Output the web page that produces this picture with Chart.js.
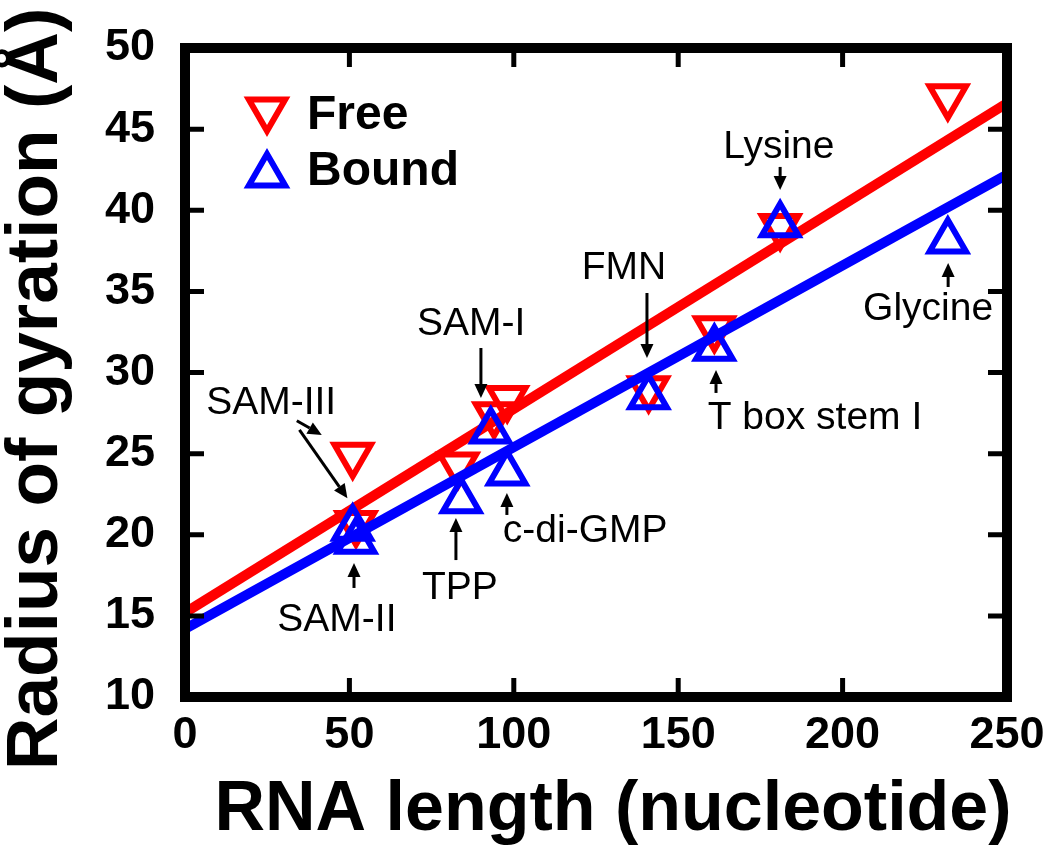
<!DOCTYPE html>
<html>
<head>
<meta charset="utf-8">
<title>Radius of gyration vs RNA length</title>
<script src="https://cdn.jsdelivr.net/npm/chart.js@4.4.1/dist/chart.umd.min.js"></script>
<style>
  html, body { margin: 0; padding: 0; background: #fff; }
  #wrap { width: 1050px; height: 852px; }
</style>
</head>
<body>
<div id="wrap"><canvas id="rgChart" width="1050" height="852"></canvas></div>
<script>
// riboswitch points (RNA length in nt, Rg in angstrom)
const freeLength = [51, 52, 83, 94, 98, 141, 161, 181, 232];
const freeRg = [24.9, 20.7, 24.3, 27.4, 28.4, 29.0, 32.7, 39.0, 47.0];
const boundLength = [51, 52, 84, 93, 98, 141, 161, 181, 232];
const boundRg = [20.4, 19.6, 22.1, 26.4, 23.8, 28.5, 31.5, 39.1, 38.1];

// fitted lines, read at both ends of the x axis
const fitLength = [0, 250];
const freeFitRg = [15.2, 46.6];
const boundFitRg = [14.2, 42.2];

const xTicks = [0, 50, 100, 150, 200, 250];
const yTicks = [10, 15, 20, 25, 30, 35, 40, 45, 50];

// text labels (centre, data units)
const labelNames = ['SAM-III', 'SAM-II', 'TPP', 'c-di-GMP', 'SAM-I', 'FMN', 'Lysine', 'Glycine', 'T box stem I'];
const labelX = [26.2, 46.2, 83.6, 121.7, 87.0, 133.5, 180.6, 226.0, 191.6];
const labelY = [28.1, 14.75, 16.7, 20.2, 33.0, 36.4, 43.9, 33.9, 27.2];

// arrows: tail and tip, data units
const arrowFromX = [34.0, 34.8, 51.4, 82.4, 97.9, 90.0, 140.5, 181.0, 232.1, 161.5];
const arrowFromY = [27.03, 26.46, 16.72, 18.44, 21.22, 31.51, 34.9, 42.67, 35.27, 28.74];
const arrowToX = [41.6, 49.4, 51.4, 82.4, 97.9, 90.0, 140.5, 181.0, 232.1, 161.5];
const arrowToY = [26.15, 22.25, 18.26, 21.03, 22.57, 28.43, 30.89, 41.25, 36.75, 30.15];

const RED = '#ff0000';
const BLUE = '#0000ff';
const FONT = '"Liberation Sans", Arial, sans-serif';

function toPoints(xs, ys) {
  return xs.map((x, i) => ({ x: x, y: ys[i] }));
}

function triangle(ctx, x, y, r, down) {
  const rot = down ? Math.PI : 0;
  ctx.beginPath();
  for (let k = 0; k < 3; k++) {
    const a = rot + k * 2 * Math.PI / 3;
    const px = x + Math.sin(a) * r;
    const py = y - Math.cos(a) * r;
    if (k === 0) ctx.moveTo(px, py); else ctx.lineTo(px, py);
  }
  ctx.closePath();
  ctx.stroke();
}

function arrow(ctx, x1, y1, x2, y2) {
  const ang = Math.atan2(y2 - y1, x2 - x1);
  const head = 14, half = 6.5;
  const bx = x2 - Math.cos(ang) * head;
  const by = y2 - Math.sin(ang) * head;
  ctx.beginPath();
  ctx.moveTo(x1, y1);
  ctx.lineTo(bx, by);
  ctx.stroke();
  ctx.beginPath();
  ctx.moveTo(x2, y2);
  ctx.lineTo(bx + Math.sin(ang) * half, by - Math.cos(ang) * half);
  ctx.lineTo(bx - Math.sin(ang) * half, by + Math.cos(ang) * half);
  ctx.closePath();
  ctx.fill();
}

// frame, inward ticks, legend, labels, arrows, axis titles
const overlay = {
  id: 'overlay',
  afterDatasetsDraw(chart) {
    const ctx = chart.ctx;
    const xs = chart.scales.x;
    const ys = chart.scales.y;
    const area = chart.chartArea;
    ctx.save();

    ctx.strokeStyle = '#000';
    ctx.lineCap = 'butt';
    ctx.lineWidth = 5;
    ctx.beginPath();
    xTicks.slice(1, -1).forEach(v => {
      const px = xs.getPixelForValue(v);
      ctx.moveTo(px, area.bottom); ctx.lineTo(px, area.bottom - 19);
      ctx.moveTo(px, area.top); ctx.lineTo(px, area.top + 19);
    });
    yTicks.slice(1, -1).forEach(v => {
      const py = ys.getPixelForValue(v);
      ctx.moveTo(area.left, py); ctx.lineTo(area.left + 19, py);
      ctx.moveTo(area.right, py); ctx.lineTo(area.right - 19, py);
    });
    ctx.stroke();

    ctx.lineWidth = 10;
    ctx.lineJoin = 'miter';
    ctx.strokeRect(area.left, area.top, area.right - area.left, area.bottom - area.top);

    // legend
    ctx.lineWidth = 6;
    ctx.strokeStyle = RED;
    triangle(ctx, area.left + 82, area.top + 62, 21, true);
    ctx.strokeStyle = BLUE;
    triangle(ctx, area.left + 82, area.top + 127, 21, false);
    ctx.fillStyle = '#000';
    ctx.font = 'bold 48px ' + FONT;
    ctx.textAlign = 'left';
    ctx.textBaseline = 'middle';
    ctx.fillText('Free', area.left + 122, area.top + 68);
    ctx.fillText('Bound', area.left + 122, area.top + 124);

    // point labels
    ctx.font = '39px ' + FONT;
    ctx.textAlign = 'center';
    labelNames.forEach((name, i) => {
      ctx.fillText(name, xs.getPixelForValue(labelX[i]), ys.getPixelForValue(labelY[i]));
    });

    ctx.strokeStyle = '#000';
    ctx.lineWidth = 3;
    arrowFromX.forEach((x, i) => {
      arrow(ctx, xs.getPixelForValue(x), ys.getPixelForValue(arrowFromY[i]),
        xs.getPixelForValue(arrowToX[i]), ys.getPixelForValue(arrowToY[i]));
    });

    // axis titles
    ctx.font = 'bold 70px ' + FONT;
    ctx.fillText('RNA length (nucleotide)', 613, 811);
    ctx.font = 'bold 73px ' + FONT;
    ctx.translate(37, 389);
    ctx.rotate(-Math.PI / 2);
    ctx.fillText('Radius of gyration (Å)', 0, 0);

    ctx.restore();
  }
};

const tickFont = { family: FONT, size: 45, weight: 'bold' };
// invisible tick marks: only used to push the labels away from the axes
const hiddenGrid = (len) => ({ display: true, drawOnChartArea: false, drawTicks: true, tickLength: len, tickColor: 'rgba(0,0,0,0)', color: 'rgba(0,0,0,0)' });

new Chart(document.getElementById('rgChart'), {
  type: 'scatter',
  data: {
    datasets: [
      {
        label: 'Bound',
        data: toPoints(boundLength, boundRg),
        pointStyle: 'triangle',
        pointRadius: 21,
        pointBorderWidth: 6,
        pointBorderColor: BLUE,
        pointBackgroundColor: 'rgba(0,0,0,0)',
        order: 0
      },
      {
        label: 'Bound fit',
        data: toPoints(fitLength, boundFitRg),
        showLine: true,
        borderColor: BLUE,
        borderWidth: 10,
        pointRadius: 0,
        order: 1
      },
      {
        label: 'Free',
        data: toPoints(freeLength, freeRg),
        pointStyle: 'triangle',
        pointRotation: 180,
        pointRadius: 21,
        pointBorderWidth: 6,
        pointBorderColor: RED,
        pointBackgroundColor: 'rgba(0,0,0,0)',
        order: 2
      },
      {
        label: 'Free fit',
        data: toPoints(fitLength, freeFitRg),
        showLine: true,
        borderColor: RED,
        borderWidth: 10,
        pointRadius: 0,
        order: 3
      }
    ]
  },
  options: {
    responsive: false,
    animation: false,
    events: [],
    layout: { padding: { top: 48, right: 43, left: 0, bottom: 0 } },
    plugins: { legend: { display: false }, tooltip: { enabled: false } },
    scales: {
      x: {
        type: 'linear',
        min: 0,
        max: 250,
        afterBuildTicks: s => { s.ticks = xTicks.map(v => ({ value: v })); },
        afterFit: s => { s.height = 155; },
        grid: hiddenGrid(12),
        border: { display: false },
        ticks: { padding: 0, color: '#000', font: tickFont, maxRotation: 0 }
      },
      y: {
        type: 'linear',
        min: 10,
        max: 50,
        afterBuildTicks: s => { s.ticks = yTicks.map(v => ({ value: v })); },
        afterFit: s => { s.width = 185; },
        grid: hiddenGrid(30),
        border: { display: false },
        ticks: { padding: 0, color: '#000', font: tickFont }
      }
    }
  },
  plugins: [overlay]
});
</script>
</body>
</html>
